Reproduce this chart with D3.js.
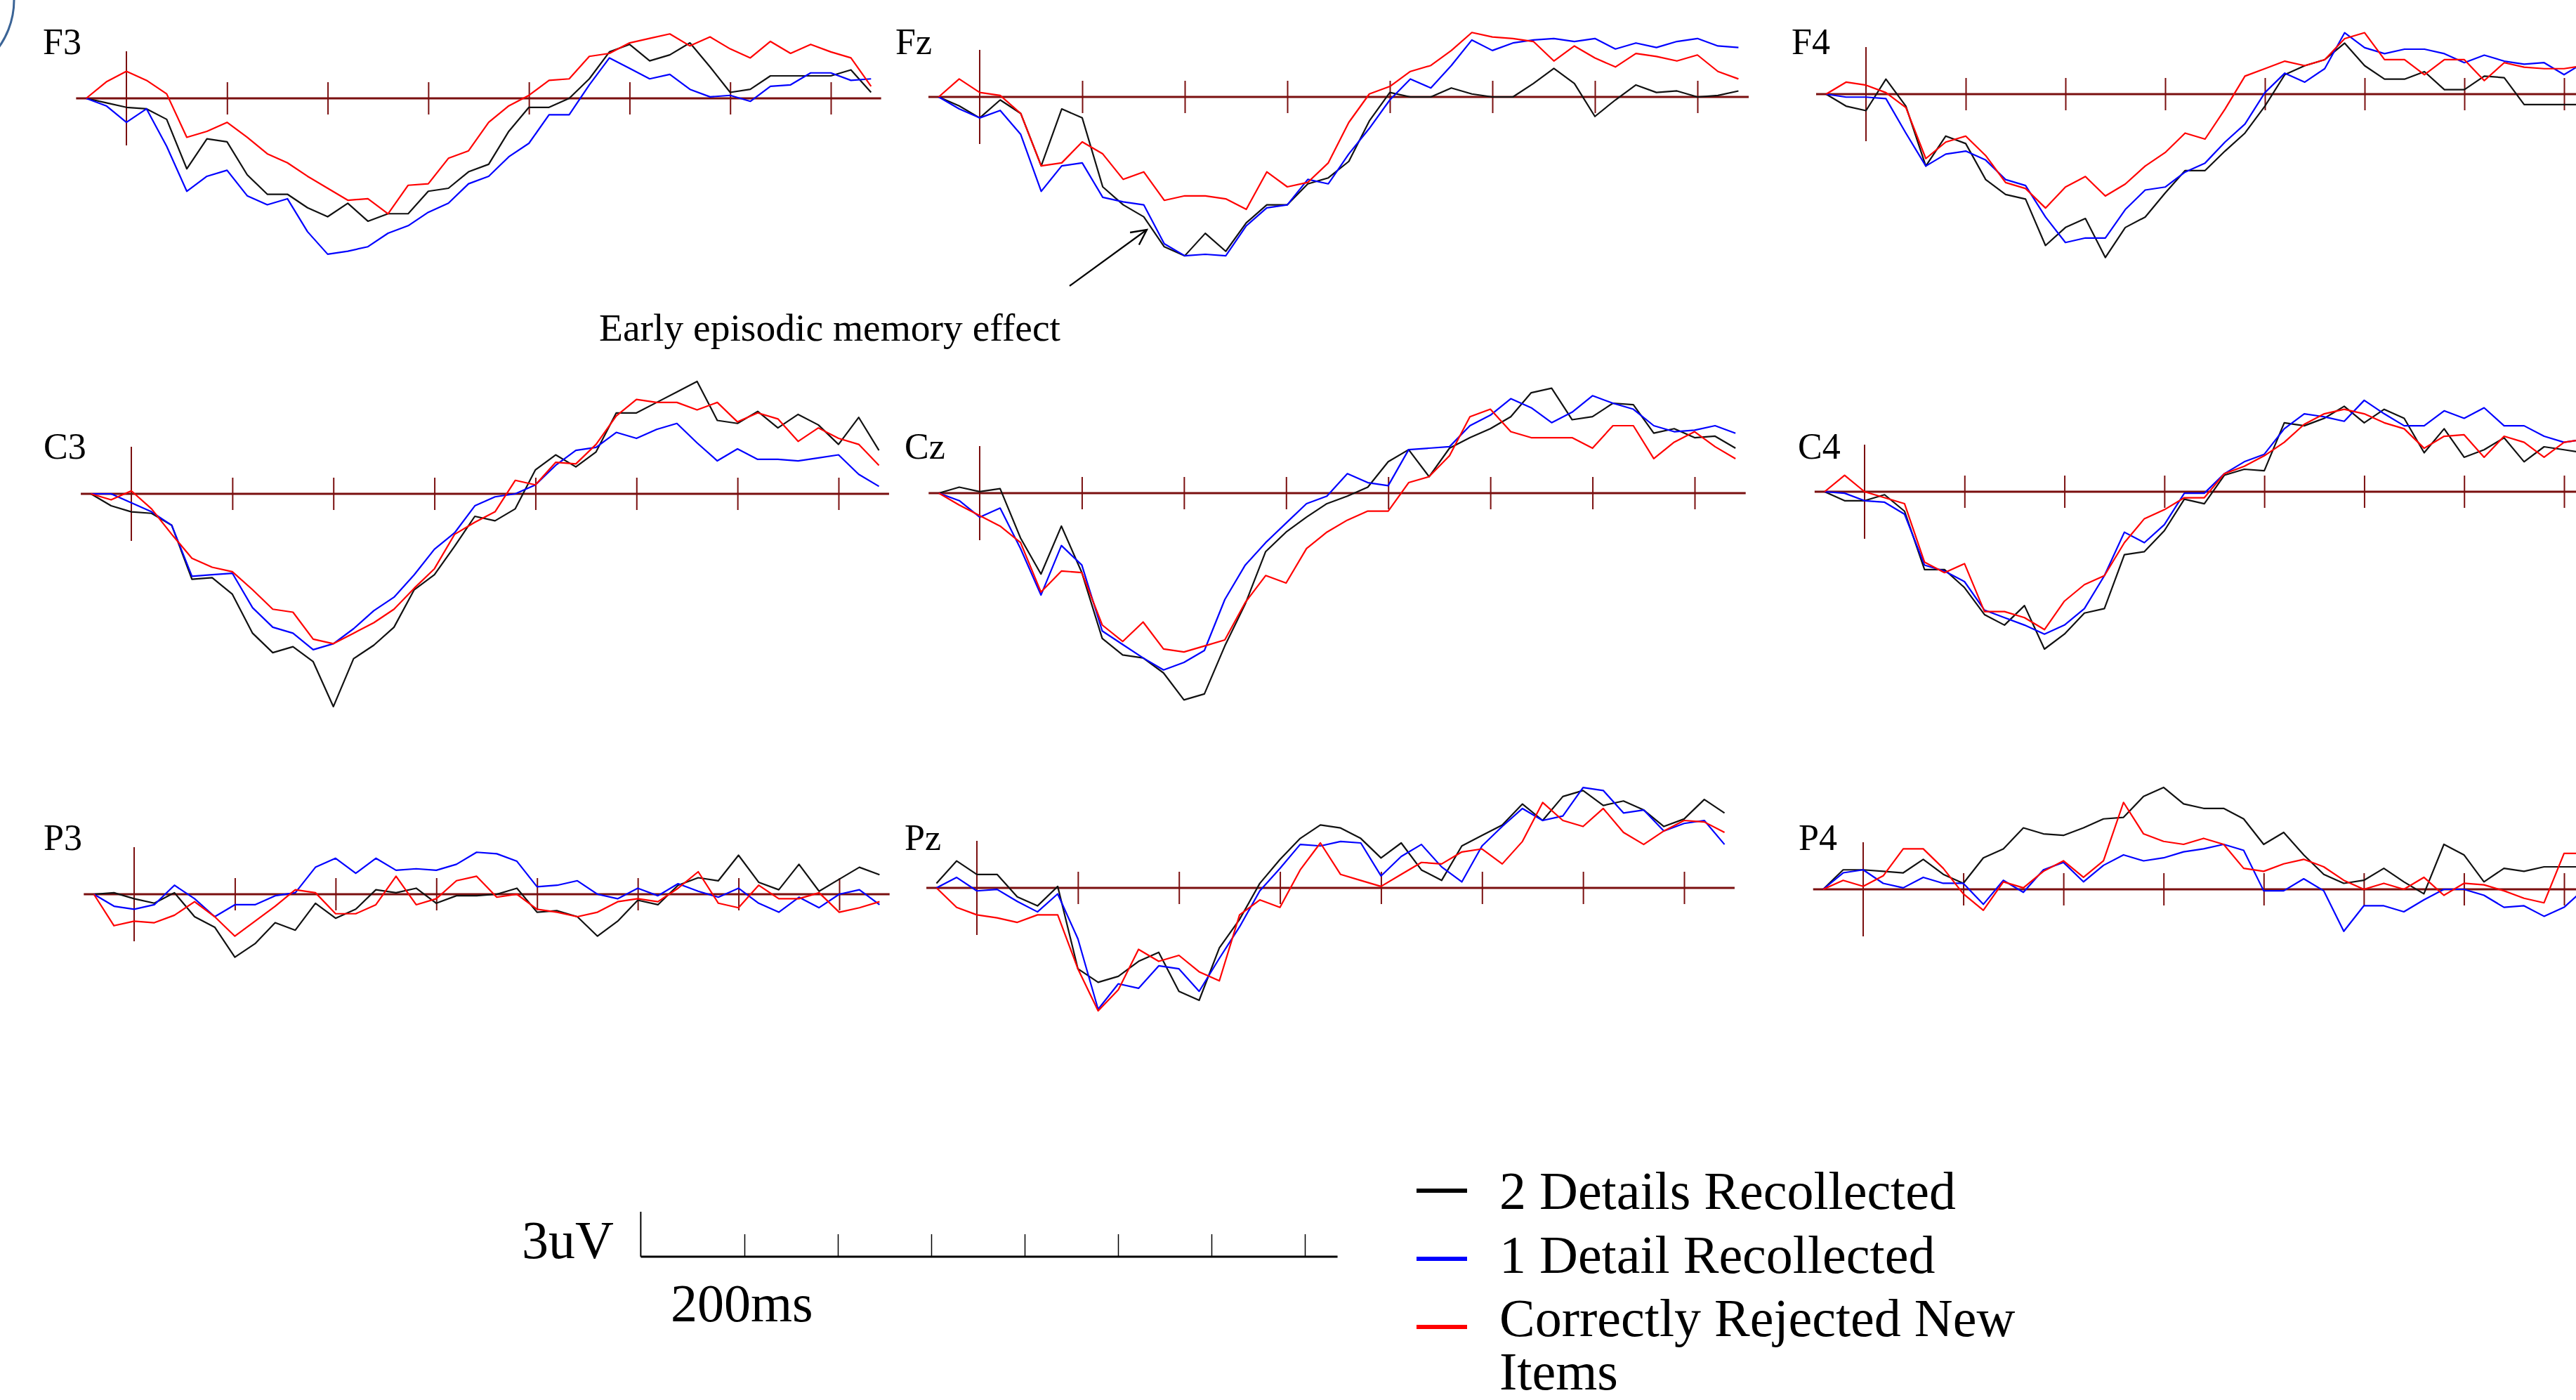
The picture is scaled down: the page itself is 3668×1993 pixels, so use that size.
<!DOCTYPE html>
<html>
<head>
<meta charset="utf-8">
<script src="https://cdn.jsdelivr.net/npm/d3@7"></script>
<style>
  body { margin: 0; background: #fff; }
  svg { display: block; }
  text { font-family: "Liberation Serif", "DejaVu Serif", serif; fill: #000; }
</style>
</head>
<body>
<div id="chart"></div>
<script>
let svgWidth = 3668;
let svgHeight = 1993;

// Data ==========================
// sample times (ms after stimulus onset)
let times = [-40, -20, 0, 20, 40, 60, 80, 100, 120, 140, 160, 180, 200, 220, 240, 260, 280, 300, 320, 340,
  360, 380, 400, 420, 440, 460, 480, 500, 520, 540, 560, 580, 600, 620, 640, 660, 680, 700, 720, 740];
let tickTimes = [100, 200, 300, 400, 500, 600, 700];

let conditions = ["2 Details Recollected", "1 Detail Recollected", "Correctly Rejected New Items"];
let colors = ["#111111", "#0000ff", "#ff0000"];

// amplitudes (uV), one array per channel and condition
let f3Two = [0, -0.3, -0.6, -0.7, -1.4, -4.7, -2.7, -2.9, -5.1, -6.4, -6.4, -7.3, -7.9, -7.0, -8.2, -7.7, -7.7, -6.2, -6.0, -4.9, -4.4, -2.2, -0.6, -0.6, 0.0, 1.3, 3.1, 3.6, 2.5, 2.9, 3.7, 2.1, 0.4, 0.6, 1.5, 1.5, 1.5, 1.5, 1.9, 0.4];
let f3One = [0, -0.5, -1.6, -0.7, -3.2, -6.2, -5.2, -4.8, -6.5, -7.1, -6.7, -8.9, -10.4, -10.2, -9.9, -9.0, -8.5, -7.6, -7.0, -5.7, -5.2, -3.9, -3.0, -1.1, -1.1, 0.9, 2.7, 2.0, 1.3, 1.6, 0.6, 0.1, 0.2, -0.2, 0.8, 0.9, 1.7, 1.7, 1.2, 1.3];
let f3New = [0, 1.1, 1.8, 1.2, 0.3, -2.6, -2.2, -1.6, -2.6, -3.7, -4.3, -5.2, -6.0, -6.8, -6.7, -7.7, -5.8, -5.7, -4.0, -3.5, -1.6, -0.5, 0.2, 1.2, 1.3, 2.8, 3.0, 3.7, 4.0, 4.3, 3.5, 4.1, 3.3, 2.7, 3.8, 3.0, 3.6, 3.1, 2.7, 0.8];

let fzTwo = [0, -0.6, -1.4, -0.2, -1.1, -4.6, -0.8, -1.4, -6.0, -7.2, -8.0, -10.0, -10.6, -9.1, -10.3, -8.4, -7.2, -7.2, -5.8, -5.4, -4.3, -1.6, 0.3, 0.0, 0.0, 0.6, 0.2, 0.0, 0.0, 0.9, 1.9, 0.9, -1.3, -0.2, 0.8, 0.3, 0.4, 0.0, 0.1, 0.4];
let fzOne = [0, -0.8, -1.4, -0.9, -2.5, -6.3, -4.6, -4.4, -6.7, -7.0, -7.2, -9.8, -10.6, -10.5, -10.6, -8.6, -7.4, -7.2, -5.5, -5.8, -3.8, -2.1, -0.2, 1.2, 0.6, 2.1, 3.8, 3.1, 3.6, 3.8, 3.9, 3.7, 3.9, 3.2, 3.6, 3.3, 3.7, 3.9, 3.4, 3.3];
let fzNew = [0, 1.2, 0.3, 0.1, -1.1, -4.6, -4.4, -3.0, -3.8, -5.5, -5.0, -6.9, -6.6, -6.6, -6.8, -7.5, -5.0, -6.0, -5.7, -4.4, -1.7, 0.2, 0.7, 1.7, 2.1, 3.1, 4.3, 4.0, 3.9, 3.7, 2.4, 3.4, 2.6, 2.0, 2.9, 2.7, 2.4, 2.8, 1.7, 1.2];

let f4Two = [0, -0.8, -1.1, 1.0, -0.8, -4.8, -2.8, -3.3, -5.7, -6.7, -7.0, -10.1, -8.9, -8.3, -10.9, -8.9, -8.2, -6.6, -5.1, -5.1, -3.8, -2.6, -0.8, 1.3, 1.9, 2.3, 3.4, 1.9, 1.0, 1.0, 1.5, 0.3, 0.3, 1.2, 1.1, -0.7, -0.7, -0.7, -0.7];
let f4One = [0, -0.2, -0.2, -0.3, -2.6, -4.8, -4.0, -3.8, -4.4, -5.7, -6.1, -8.2, -9.9, -9.6, -9.6, -7.7, -6.4, -6.2, -5.2, -4.6, -3.2, -2.0, 0.1, 1.4, 0.8, 1.7, 4.1, 3.1, 2.7, 3.0, 3.0, 2.7, 2.1, 2.6, 2.2, 2.0, 2.1, 1.3, 2.1];
let f4New = [0, 0.8, 0.6, 0.1, -0.9, -4.3, -3.2, -2.8, -4.1, -5.9, -6.3, -7.6, -6.2, -5.5, -6.8, -6.0, -4.8, -3.9, -2.6, -3.0, -1.0, 1.2, 1.7, 2.2, 1.9, 2.3, 3.7, 4.1, 2.3, 2.3, 1.3, 2.3, 2.3, 0.9, 2.1, 1.8, 1.7, 1.7, 1.9];

let c3Two = [0, -0.8, -1.2, -1.3, -2.1, -5.7, -5.6, -6.7, -9.3, -10.6, -10.2, -11.2, -14.2, -11.0, -10.1, -8.9, -6.4, -5.4, -3.5, -1.5, -1.8, -1.0, 1.6, 2.6, 1.8, 2.8, 5.4, 5.4, 6.1, 6.8, 7.5, 4.9, 4.7, 5.5, 4.4, 5.3, 4.6, 3.3, 5.1, 2.9];
let c3One = [0, 0, -0.6, -1.2, -2.1, -5.5, -5.4, -5.3, -7.6, -8.9, -9.3, -10.4, -10.0, -9.0, -7.8, -6.9, -5.4, -3.7, -2.6, -0.8, -0.2, 0, 0.6, 1.9, 2.9, 3.1, 4.1, 3.7, 4.3, 4.7, 3.4, 2.2, 3.0, 2.3, 2.3, 2.2, 2.4, 2.6, 1.3, 0.5];
let c3New = [0, -0.4, 0.2, -1.0, -2.7, -4.3, -4.9, -5.2, -6.4, -7.7, -7.9, -9.7, -10.0, -9.3, -8.6, -7.7, -6.3, -5.0, -2.7, -1.9, -1.2, 0.9, 0.6, 2.1, 2.0, 3.3, 5.2, 6.3, 6.1, 6.1, 5.6, 6.1, 4.8, 5.4, 5.0, 3.5, 4.4, 3.7, 3.3, 1.9];

let czTwo = [0, 0.4, 0.1, 0.3, -3.0, -5.4, -2.2, -5.3, -9.7, -10.8, -11.0, -12.0, -13.8, -13.4, -10.2, -7.4, -3.9, -2.6, -1.6, -0.7, -0.2, 0.4, 2.1, 2.9, 1.1, 3.0, 3.7, 4.3, 5.1, 6.7, 7.0, 4.9, 5.1, 6.0, 5.9, 4.0, 4.3, 3.7, 3.8, 3.0];
let czOne = [0, -0.5, -1.6, -1.0, -3.7, -6.8, -3.5, -4.8, -9.2, -10.1, -11.0, -11.8, -11.3, -10.5, -7.1, -4.8, -3.3, -2.0, -0.7, -0.2, 1.3, 0.7, 0.5, 2.9, 3.0, 3.1, 4.5, 5.2, 6.3, 5.7, 4.7, 5.4, 6.5, 6.0, 5.6, 4.5, 4.1, 4.2, 4.5, 4.0];
let czNew = [0, -0.8, -1.5, -2.2, -3.3, -6.6, -5.2, -5.3, -8.8, -9.9, -8.6, -10.4, -10.6, -10.2, -9.8, -7.3, -5.5, -6.0, -3.7, -2.6, -1.8, -1.2, -1.2, 0.7, 1.1, 2.5, 5.1, 5.6, 4.1, 3.7, 3.7, 3.7, 3.0, 4.5, 4.5, 2.3, 3.4, 4.1, 3.1, 2.3];

let c4Two = [0, -0.6, -0.6, -0.2, -1.3, -5.2, -5.2, -6.4, -8.2, -8.9, -7.6, -10.5, -9.5, -8.1, -7.8, -4.2, -4.0, -2.6, -0.5, -0.8, 1.1, 1.5, 1.4, 4.6, 4.4, 4.9, 5.7, 4.6, 5.5, 4.9, 2.6, 4.2, 2.3, 2.8, 3.6, 2.0, 3.0, 2.8, 2.6];
let c4One = [0, -0.1, -0.6, -0.7, -1.5, -4.9, -5.3, -6.0, -7.9, -8.4, -8.9, -9.5, -8.9, -7.8, -5.6, -2.7, -3.4, -2.2, -0.1, -0.1, 1.2, 2.0, 2.5, 4.2, 5.2, 5.0, 4.7, 6.1, 5.2, 4.4, 4.4, 5.4, 4.9, 5.6, 4.4, 4.4, 3.7, 3.3, 3.5];
let c4New = [0, 1.1, 0, -0.4, -0.8, -4.7, -5.4, -4.8, -8.0, -8.0, -8.4, -9.2, -7.3, -6.2, -5.6, -3.4, -1.8, -1.2, -0.4, -0.4, 1.2, 1.7, 2.4, 3.3, 4.5, 5.2, 5.5, 5.2, 4.6, 4.2, 2.9, 3.7, 3.8, 2.3, 3.7, 3.3, 2.3, 3.3, 3.5];

let p3Two = [0, 0.1, -0.3, -0.6, 0.1, -1.5, -2.2, -4.2, -3.3, -1.9, -2.4, -0.6, -1.6, -1.0, 0.3, 0.1, 0.4, -0.6, -0.1, -0.1, 0, 0.4, -1.2, -1.1, -1.5, -2.8, -1.8, -0.4, -0.7, 0.6, 1.1, 0.9, 2.6, 0.8, 0.3, 2.0, 0.2, 1.0, 1.8, 1.3];
let p3One = [0, -0.8, -1.0, -0.7, 0.6, -0.3, -1.5, -0.7, -0.7, -0.1, 0.1, 1.8, 2.4, 1.4, 2.4, 1.6, 1.7, 1.6, 2.0, 2.8, 2.7, 2.2, 0.5, 0.6, 0.9, 0, -0.3, 0.4, -0.1, 0.7, 0.2, -0.2, 0.4, -0.6, -1.2, -0.2, -0.9, 0, 0.3, -0.7];
let p3New = [0, -2.1, -1.8, -1.9, -1.4, -0.5, -1.5, -2.8, -1.8, -0.8, 0.3, 0.1, -1.3, -1.3, -0.7, 1.2, -0.7, -0.3, 0.9, 1.2, -0.2, 0, -1.0, -1.2, -1.5, -1.2, -0.5, -0.3, -0.5, 0.4, 1.5, -0.6, -0.9, 0.6, -0.3, -0.3, 0.1, -1.2, -0.9, -0.5];

let pzTwo = [0.3, 1.8, 0.9, 0.9, -0.6, -1.2, 0.1, -5.4, -6.3, -5.9, -4.9, -4.3, -6.9, -7.5, -4.0, -2.1, 0.3, 1.9, 3.3, 4.2, 4.0, 3.3, 2.0, 3.0, 1.2, 0.5, 2.8, 3.5, 4.2, 5.6, 4.5, 6.1, 6.5, 5.5, 5.8, 5.2, 4.1, 4.6, 5.9, 5.0];
let pzOne = [0, 0.7, -0.2, -0.1, -0.9, -1.6, -0.4, -3.4, -8.1, -6.4, -6.7, -5.2, -5.4, -6.9, -4.7, -2.6, -0.2, 1.3, 2.9, 2.8, 3.1, 3.0, 0.8, 2.1, 2.9, 1.4, 0.4, 2.8, 4.1, 5.3, 4.5, 4.8, 6.7, 6.5, 5.0, 5.2, 3.8, 4.3, 4.5, 2.9];
let pzNew = [0, -1.3, -1.8, -2.0, -2.3, -1.8, -1.8, -5.4, -8.2, -6.8, -4.1, -4.9, -4.5, -5.6, -6.2, -1.8, -0.8, -1.3, 1.2, 3.0, 0.9, 0.5, 0.1, 0.9, 1.7, 1.6, 2.4, 2.6, 1.6, 3.1, 5.7, 4.5, 4.1, 5.3, 3.7, 2.9, 3.8, 4.5, 4.4, 3.7];

let p4Two = [0, 1.3, 1.3, 1.2, 1.1, 2.0, 1.0, 0.4, 2.1, 2.7, 4.1, 3.7, 3.6, 4.1, 4.7, 4.8, 6.2, 6.8, 5.7, 5.4, 5.4, 4.7, 3.0, 3.8, 2.3, 1.0, 0.4, 0.6, 1.4, 0.5, -0.3, 3.0, 2.3, 0.5, 1.4, 1.2, 1.5, 1.5, 1.5];
let p4One = [0, 1.1, 1.3, 0.4, 0.1, 0.8, 0.4, 0.4, -1.0, 0.6, -0.2, 1.3, 1.8, 0.5, 1.6, 2.3, 1.9, 2.1, 2.5, 2.7, 3.0, 2.6, -0.1, -0.1, 0.7, -0.1, -2.8, -1.1, -1.1, -1.5, -0.7, 0, 0, -0.4, -1.2, -1.1, -1.8, -1.2, 0];
let p4New = [0, 0.6, 0.2, 0.9, 2.7, 2.7, 1.4, -0.3, -1.4, 0.5, 0.1, 1.2, 1.9, 0.8, 1.9, 5.8, 3.7, 3.2, 3.0, 3.4, 3.0, 1.4, 1.2, 1.7, 2.0, 1.5, 0.6, 0, 0.4, 0, 0.8, -0.4, 0.4, 0.3, -0.1, -0.6, -0.9, 2.4, 2.4];

let channels = [
  { name: "F3", series: [f3Two, f3One, f3New] },
  { name: "Fz", series: [fzTwo, fzOne, fzNew] },
  { name: "F4", series: [f4Two, f4One, f4New] },
  { name: "C3", series: [c3Two, c3One, c3New] },
  { name: "Cz", series: [czTwo, czOne, czNew] },
  { name: "C4", series: [c4Two, c4One, c4New] },
  { name: "P3", series: [p3Two, p3One, p3New] },
  { name: "Pz", series: [pzTwo, pzOne, pzNew] },
  { name: "P4", series: [p4Two, p4One, p4New] }
];

// Layout ========================
// x0: onset position, y0: zero line, w: width of 700 ms, lx/ly: label
let layout = {
  F3: { x0: 180, y0: 140, w: 1003, lx: 61, ly: 77 },
  Fz: { x0: 1395, y0: 138, w: 1022, lx: 1275, ly: 77 },
  F4: { x0: 2657, y0: 134, w: 994, lx: 2551, ly: 77 },
  C3: { x0: 187, y0: 703, w: 1007, lx: 62, ly: 653 },
  Cz: { x0: 1395, y0: 702, w: 1018, lx: 1288, ly: 653 },
  C4: { x0: 2655, y0: 700, w: 996, lx: 2560, ly: 653 },
  P3: { x0: 191, y0: 1273, w: 1004, lx: 62, ly: 1210 },
  Pz: { x0: 1391, y0: 1264, w: 1007, lx: 1288, ly: 1210 },
  P4: { x0: 2653, y0: 1266, w: 998, lx: 2561, ly: 1210 }
};
let pxPer3uV = 64;
let axisColor = "#7a0f0f";

let svg = d3.select("#chart").append("svg")
  .attr("width", svgWidth)
  .attr("height", svgHeight);

svg.append("rect").attr("width", svgWidth).attr("height", svgHeight).attr("fill", "#fff");

// piece of a circle peeking in at the top left corner
svg.append("circle")
  .attr("cx", -95).attr("cy", 0).attr("r", 115)
  .attr("fill", "none").attr("stroke", "#3b6496").attr("stroke-width", 3);

// Panels ========================
channels.forEach(ch => {
  let p = layout[ch.name];
  let x = d3.scaleLinear().domain([0, 700]).range([p.x0, p.x0 + p.w]);
  let y = d3.scaleLinear().domain([0, 3]).range([p.y0, p.y0 - pxPer3uV]);
  let g = svg.append("g");

  // zero line
  g.append("line")
    .attr("x1", x(-50)).attr("x2", x(750))
    .attr("y1", y(0)).attr("y2", y(0))
    .attr("stroke", axisColor).attr("stroke-width", 3);

  // 100 ms ticks crossing the zero line
  let axis = g.append("g")
    .attr("transform", `translate(0, ${y(0) - 23})`)
    .call(d3.axisBottom(x).tickValues(tickTimes).tickSize(46).tickFormat(""));
  axis.select(".domain").remove();
  axis.selectAll(".tick line").attr("stroke", axisColor).attr("stroke-width", 2);

  // onset marker
  g.append("line")
    .attr("x1", x(0)).attr("x2", x(0))
    .attr("y1", y(0) - 67).attr("y2", y(0) + 67)
    .attr("stroke", axisColor).attr("stroke-width", 2);

  let line = d3.line()
    .x((d, i) => x(times[i]))
    .y(d => y(d));

  ch.series.forEach((vals, k) => {
    g.append("path")
      .attr("d", line(vals))
      .attr("fill", "none")
      .attr("stroke", colors[k])
      .attr("stroke-width", 2.2)
      .attr("stroke-linejoin", "round");
  });

  g.append("text")
    .attr("x", p.lx).attr("y", p.ly)
    .attr("font-size", 52)
    .text(ch.name);
});

// Annotation =====================
let defs = svg.append("defs");
defs.append("marker")
  .attr("id", "head")
  .attr("viewBox", "0 0 12 12")
  .attr("refX", 11).attr("refY", 6)
  .attr("markerWidth", 26).attr("markerHeight", 26)
  .attr("markerUnits", "userSpaceOnUse")
  .attr("orient", "auto")
  .append("path")
  .attr("d", "M1,1 L11,6 L1,11")
  .attr("fill", "none").attr("stroke", "#000").attr("stroke-width", 1.1);

svg.append("line")
  .attr("x1", 1523).attr("y1", 407)
  .attr("x2", 1633).attr("y2", 327)
  .attr("stroke", "#000").attr("stroke-width", 2.2)
  .attr("marker-end", "url(#head)");

svg.append("text")
  .attr("x", 853).attr("y", 485)
  .attr("font-size", 55.5)
  .text("Early episodic memory effect");

// Scale bar ======================
let sbX = d3.scaleLinear().domain([0, 700]).range([927, 1858]);
let sbY = d3.scaleLinear().domain([0, 3]).range([1789, 1789 - pxPer3uV]);

let sb = svg.append("g");
sb.append("line")
  .attr("x1", sbX(-11)).attr("x2", sbX(-11))
  .attr("y1", sbY(0)).attr("y2", sbY(3))
  .attr("stroke", "#000").attr("stroke-width", 2);
sb.append("line")
  .attr("x1", sbX(-11)).attr("x2", sbX(735))
  .attr("y1", sbY(0)).attr("y2", sbY(0))
  .attr("stroke", "#000").attr("stroke-width", 3);
let sbAxis = sb.append("g")
  .attr("transform", `translate(0, ${sbY(0)})`)
  .call(d3.axisTop(sbX).tickValues(tickTimes).tickSize(32).tickFormat(""));
sbAxis.select(".domain").remove();
sbAxis.selectAll(".tick line").attr("stroke", "#000").attr("stroke-width", 1.5);

sb.append("text").attr("x", 743).attr("y", 1791).attr("font-size", 76).text("3uV");
sb.append("text").attr("x", 955).attr("y", 1881).attr("font-size", 76).text("200ms");

// Legend =========================
let legendMarkY = [1695, 1792, 1889];
let legendTextY = [1721, 1812, 1902];
let legend = svg.append("g");

conditions.forEach((c, i) => {
  legend.append("line")
    .attr("x1", 2017).attr("x2", 2089)
    .attr("y1", legendMarkY[i]).attr("y2", legendMarkY[i])
    .attr("stroke", colors[i] === "#111111" ? "#000" : colors[i])
    .attr("stroke-width", 6);
});

legend.append("text").attr("x", 2135).attr("y", legendTextY[0]).attr("font-size", 76).text(conditions[0]);
legend.append("text").attr("x", 2135).attr("y", legendTextY[1]).attr("font-size", 76).text(conditions[1]);
let lastLabel = legend.append("text").attr("x", 2135).attr("y", legendTextY[2]).attr("font-size", 76);
lastLabel.append("tspan").text("Correctly Rejected New");
lastLabel.append("tspan").attr("x", 2135).attr("dy", 76).text("Items");
</script>
</body>
</html>
